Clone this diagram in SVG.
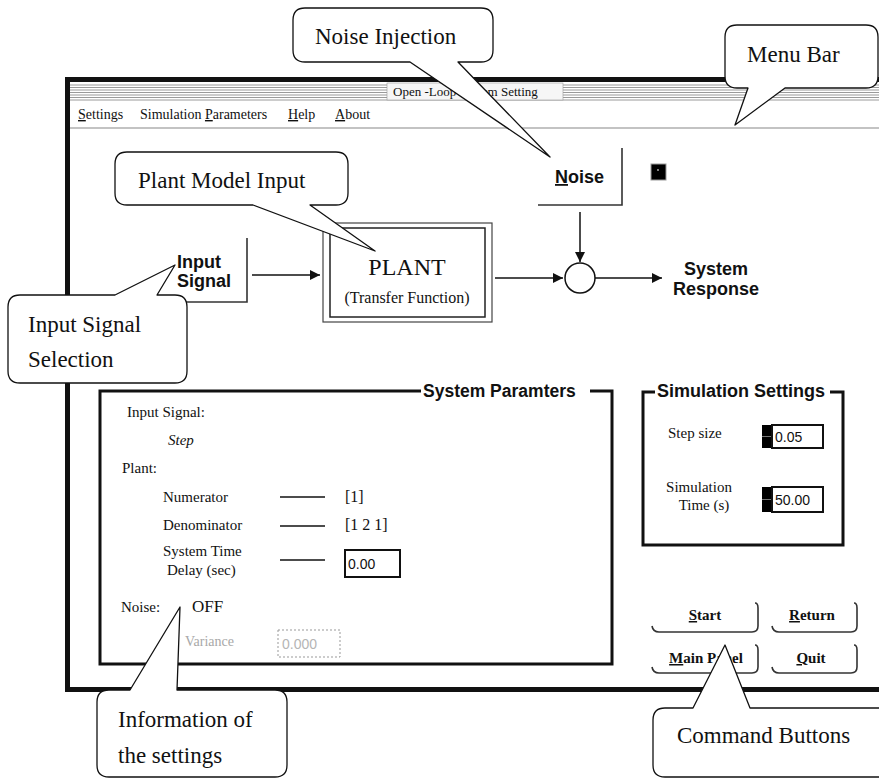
<svg xmlns="http://www.w3.org/2000/svg" width="879" height="778" viewBox="0 0 879 778">
<style>
.serif{font-family:"Liberation Serif","Times New Roman",serif;fill:#111}
.sans{font-family:"Liberation Sans",Arial,sans-serif;font-weight:bold;fill:#111}
.callout{fill:#fff;stroke:#111;stroke-width:1.3;stroke-linejoin:round}
.ctext{font-family:"Liberation Serif","Times New Roman",serif;font-size:23px;fill:#111}
.btn{fill:none;stroke:#333;stroke-width:1.6}
.conn{stroke:#111;stroke-width:1.5;fill:none}
.grp{fill:none;stroke:#111;stroke-width:3}
.stripe{stroke:#9a9a9a;stroke-width:1}
.u{text-decoration:underline}
</style>
<defs>
<marker id="arr" viewBox="0 0 10 10" refX="10" refY="5" markerUnits="userSpaceOnUse" markerWidth="11" markerHeight="10" orient="auto">
<path d="M0,0 L10,5 L0,10 z" fill="#111"/>
</marker>
</defs>
<rect x="0" y="0" width="879" height="778" fill="#fff"/>
<g id="window">
<rect x="67.5" y="79.5" width="830" height="610" fill="#fff" stroke="#111" stroke-width="5"/>
<g id="titlebar">
<line class="stripe" x1="70" y1="85" x2="879" y2="85"/>
<line class="stripe" x1="70" y1="87.5" x2="879" y2="87.5"/>
<line class="stripe" x1="70" y1="90" x2="879" y2="90"/>
<line class="stripe" x1="70" y1="92.5" x2="879" y2="92.5"/>
<line class="stripe" x1="70" y1="95" x2="879" y2="95"/>
<line class="stripe" x1="70" y1="97.5" x2="879" y2="97.5"/>
<line class="stripe" x1="70" y1="100" x2="879" y2="100"/>
<rect x="387" y="83" width="176" height="17" fill="#f6f6f6" stroke="#999" stroke-width="0.6"/>
<text class="serif" x="393" y="96" font-size="13">Open -Loop System Setting</text>
</g>
<g id="menubar">
<text class="serif" x="78" y="119" font-size="14"><tspan class="u">S</tspan>ettings</text>
<text class="serif" x="140" y="119" font-size="14">Simulation <tspan class="u">P</tspan>arameters</text>
<text class="serif" x="288" y="119" font-size="14"><tspan class="u">H</tspan>elp</text>
<text class="serif" x="335" y="119" font-size="14"><tspan class="u">A</tspan>bout</text>
<line x1="70" y1="128" x2="879" y2="128" stroke="#888" stroke-width="1.2"/>
</g>
</g>
<g id="input-signal">
<text class="sans" x="177" y="268" font-size="18">Input</text>
<text class="sans" x="177" y="287" font-size="18">Signal</text>
<path class="btn" d="M160,302 H247 V238"/>
</g>
<g id="plant">
<rect x="323" y="223" width="169" height="99" fill="#fff" stroke="#444" stroke-width="1.2"/>
<rect x="330" y="228" width="155" height="89" fill="#fff" stroke="#222" stroke-width="1.5"/>
<text class="serif" x="407" y="275" font-size="24" text-anchor="middle">PLANT</text>
<text class="serif" x="407" y="303" font-size="16" text-anchor="middle">(Transfer Function)</text>
</g>
<g id="noise">
<text class="sans" x="555" y="183" font-size="18"><tspan class="u">N</tspan>oise</text>
<path class="btn" d="M538,205 H622 V148"/>
<rect x="651" y="164" width="15" height="16" fill="#000" stroke="#999" stroke-width="1"/>
<circle cx="658" cy="170" r="0.9" fill="#bbb"/>
</g>
<g id="sum">
<circle cx="580" cy="278" r="15" fill="#fff" stroke="#111" stroke-width="1.5"/>
</g>
<g id="system-response">
<text class="sans" x="716" y="275" font-size="18" text-anchor="middle">System</text>
<text class="sans" x="716" y="295" font-size="18" text-anchor="middle">Response</text>
</g>
<g id="connectors">
<line class="conn" x1="252" y1="275" x2="320" y2="275" marker-end="url(#arr)"/>
<line class="conn" x1="495" y1="278" x2="563" y2="278" marker-end="url(#arr)"/>
<line class="conn" x1="595" y1="278" x2="662" y2="278" marker-end="url(#arr)"/>
<line class="conn" x1="580" y1="212" x2="580" y2="262" marker-end="url(#arr)"/>
</g>
<g id="system-parameters">
<path class="grp" d="M421,391 H100 V664 H612 V391 H590"/>
<text class="sans" x="423" y="397" font-size="17.5">System Paramters</text>
<text class="serif" x="127" y="417" font-size="15">Input Signal:</text>
<text class="serif" x="168" y="445" font-size="15" font-style="italic">Step</text>
<text class="serif" x="122" y="473" font-size="15">Plant:</text>
<text class="serif" x="163" y="502" font-size="15">Numerator</text>
<text class="serif" x="163" y="530" font-size="15">Denominator</text>
<text class="serif" x="163" y="556" font-size="15">System Time</text>
<text class="serif" x="167" y="575" font-size="15">Delay (sec)</text>
<line x1="280" y1="497" x2="325" y2="497" stroke="#111" stroke-width="1.3"/>
<line x1="280" y1="526" x2="325" y2="526" stroke="#111" stroke-width="1.3"/>
<line x1="280" y1="560" x2="325" y2="560" stroke="#111" stroke-width="1.3"/>
<text class="serif" x="345" y="502" font-size="16">[1]</text>
<text class="serif" x="345" y="530" font-size="16">[1  2  1]</text>
<rect x="345" y="550" width="55" height="27" fill="#fff" stroke="#111" stroke-width="2"/>
<text x="348" y="569" font-family="Liberation Sans,Arial,sans-serif" font-size="14" fill="#111">0.00</text>
<text class="serif" x="121" y="612" font-size="15">Noise:</text>
<text class="serif" x="192" y="612" font-size="17">OFF</text>
<text class="serif" x="185" y="646" font-size="14" style="fill:#a8a8a8">Variance</text>
<rect x="278" y="630" width="62" height="27" fill="none" stroke="#999" stroke-width="1" stroke-dasharray="2,2"/>
<text x="282" y="649" font-family="Liberation Sans,Arial,sans-serif" font-size="14" fill="#b5b5b5">0.000</text>
</g>
<g id="simulation-settings">
<path class="grp" d="M655,392 H643 V545 H843 V392 H830"/>
<text class="sans" x="657" y="397" font-size="18">Simulation Settings</text>
<text class="serif" x="668" y="438" font-size="15">Step size</text>
<rect x="762" y="425" width="10" height="23" fill="#000"/>
<line x1="762" y1="436.5" x2="772" y2="436.5" stroke="#777" stroke-width="1"/>
<rect x="772" y="425" width="51" height="23" fill="#fff" stroke="#111" stroke-width="2"/>
<text x="775" y="442" font-family="Liberation Sans,Arial,sans-serif" font-size="14" fill="#111">0.05</text>
<text class="serif" x="699" y="492" font-size="15" text-anchor="middle">Simulation</text>
<text class="serif" x="704" y="510" font-size="15" text-anchor="middle">Time (s)</text>
<rect x="762" y="487" width="10" height="25" fill="#000"/>
<line x1="762" y1="499.5" x2="772" y2="499.5" stroke="#777" stroke-width="1"/>
<rect x="772" y="487" width="51" height="25" fill="#fff" stroke="#111" stroke-width="2"/>
<text x="775" y="505" font-family="Liberation Sans,Arial,sans-serif" font-size="14" fill="#111">50.00</text>
</g>
<g id="btn-start">
<path class="btn" d="M652,626 Q653,632 659,632 H752 Q758,632 758,626 V608 Q758,603 755,603"/>
<text class="serif" x="705" y="620" font-size="15" font-weight="bold" text-anchor="middle"><tspan class="u">S</tspan>tart</text>
</g>
<g id="btn-return">
<path class="btn" d="M772,626 Q773,632 779,632 H851 Q857,632 857,626 V608 Q857,603 854,603"/>
<text class="serif" x="812" y="620" font-size="15" font-weight="bold" text-anchor="middle"><tspan class="u">R</tspan>eturn</text>
</g>
<g id="btn-main-panel">
<path class="btn" d="M652,667 Q653,673 659,673 H752 Q758,673 758,667 V650 Q758,645 755,645"/>
<text class="serif" x="706" y="663" font-size="15" font-weight="bold" text-anchor="middle"><tspan class="u">M</tspan>ain Panel</text>
</g>
<g id="btn-quit">
<path class="btn" d="M772,667 Q773,673 779,673 H851 Q857,673 857,667 V650 Q857,645 854,645"/>
<text class="serif" x="811" y="663" font-size="15" font-weight="bold" text-anchor="middle"><tspan class="u">Q</tspan>uit</text>
</g>
<g id="callout-noise-injection">
<path class="callout" d="M305,8 H481 Q493,8 493,20 V50 Q493,62 481,62 H458 L550,157 L410,62 H305 Q293,62 293,50 V20 Q293,8 305,8 Z"/>
<text class="ctext" x="315" y="44">Noise Injection</text>
</g>
<g id="callout-menu-bar">
<path class="callout" d="M737,25 H866 Q878,25 878,37 V76 Q878,88 866,88 H785 L735,125 L748,88 H737 Q725,88 725,76 V37 Q725,25 737,25 Z"/>
<text class="ctext" x="747" y="62">Menu Bar</text>
</g>
<g id="callout-plant-model-input">
<path class="callout" d="M127,152 H336 Q348,152 348,164 V193 Q348,205 336,205 H310 L375,251 L253,205 H127 Q115,205 115,193 V164 Q115,152 127,152 Z"/>
<text class="ctext" x="138" y="188">Plant Model Input</text>
</g>
<g id="callout-input-signal-selection">
<path class="callout" d="M20,295 H115 L175,265 L157,295 H175 Q187,295 187,307 V371 Q187,383 175,383 H20 Q8,383 8,371 V307 Q8,295 20,295 Z"/>
<text class="ctext" x="28" y="332">Input Signal</text>
<text class="ctext" x="28" y="367">Selection</text>
</g>
<g id="callout-information">
<path class="callout" d="M109,690 H130 L180,607 L177,690 H275 Q287,690 287,702 V765 Q287,777 275,777 H109 Q97,777 97,765 V702 Q97,690 109,690 Z"/>
<text class="ctext" x="118" y="727">Information of</text>
<text class="ctext" x="118" y="763">the settings</text>
</g>
<g id="callout-command-buttons">
<path class="callout" d="M665,708 H693 L725,645 L750,708 H890 V777 H665 Q653,777 653,765 V720 Q653,708 665,708 Z"/>
<text class="ctext" x="677" y="743">Command Buttons</text>
</g>
</svg>
